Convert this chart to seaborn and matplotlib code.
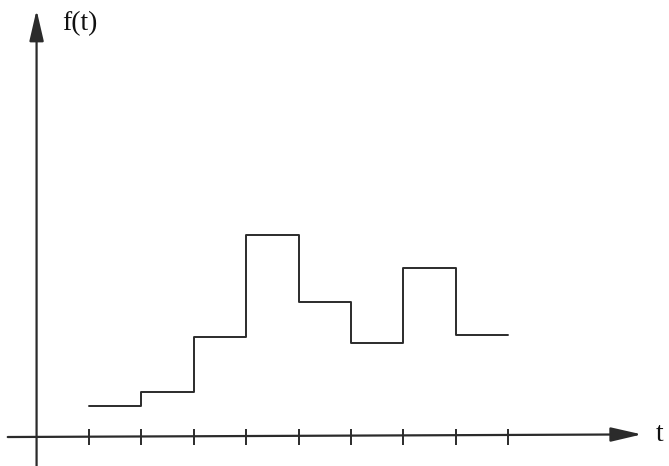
import matplotlib
matplotlib.use("Agg")
import matplotlib.pyplot as plt
import seaborn as sns
import pandas as pd

# Piecewise-constant signal sampled on unit intervals t = 1..9
t_knots = [1, 2, 3, 4, 5, 6, 7, 8, 9]
f_levels = [0.60, 0.86, 1.91, 3.85, 2.58, 1.80, 3.23, 1.95]
tick_positions = [1, 2, 3, 4, 5, 6, 7, 8, 9]
y_label = "f(t)"
x_label = "t"

sns.set_theme(style="white")
plt.rcParams["font.family"] = ["Liberation Serif", "DejaVu Serif"]

fig = plt.figure(figsize=(6.69, 4.66), dpi=100)
ax = fig.add_axes([0, 0, 1, 1])
ax.set_xlim(-0.698, 12.07)
ax.set_ylim(-0.553, 8.34)
ax.axis("off")

ink = "#2b2b2b"

# step curve: last level repeated so the final segment reaches t = 9
df = pd.DataFrame({"t": t_knots, "f": f_levels + [f_levels[-1]]})
sns.lineplot(data=df, x="t", y="f", drawstyle="steps-post", estimator=None,
             color=ink, lw=1.4, ax=ax)

# coordinate axes with filled arrow heads
arrow_kw = dict(arrowstyle="-|>,head_length=0.95,head_width=0.22",
                mutation_scale=20, color=ink, lw=1.6, shrinkA=0, shrinkB=0)
ax.annotate("", xy=(0, 8.15), xytext=(0, -0.6), arrowprops=arrow_kw)
ax.annotate("", xy=(11.55, 0.05), xytext=(-0.55, 0), arrowprops=arrow_kw)

# tick marks along the t axis
ax.vlines(tick_positions, -0.15, 0.15, color=ink, lw=1.4)

ax.text(0.48, 7.88, y_label, fontsize=20, color="#111111",
        ha="left", va="center")
ax.text(11.82, 0.04, x_label, fontsize=20, color="#111111",
        ha="left", va="center")

fig.savefig("out.png", dpi=100, facecolor="white")
